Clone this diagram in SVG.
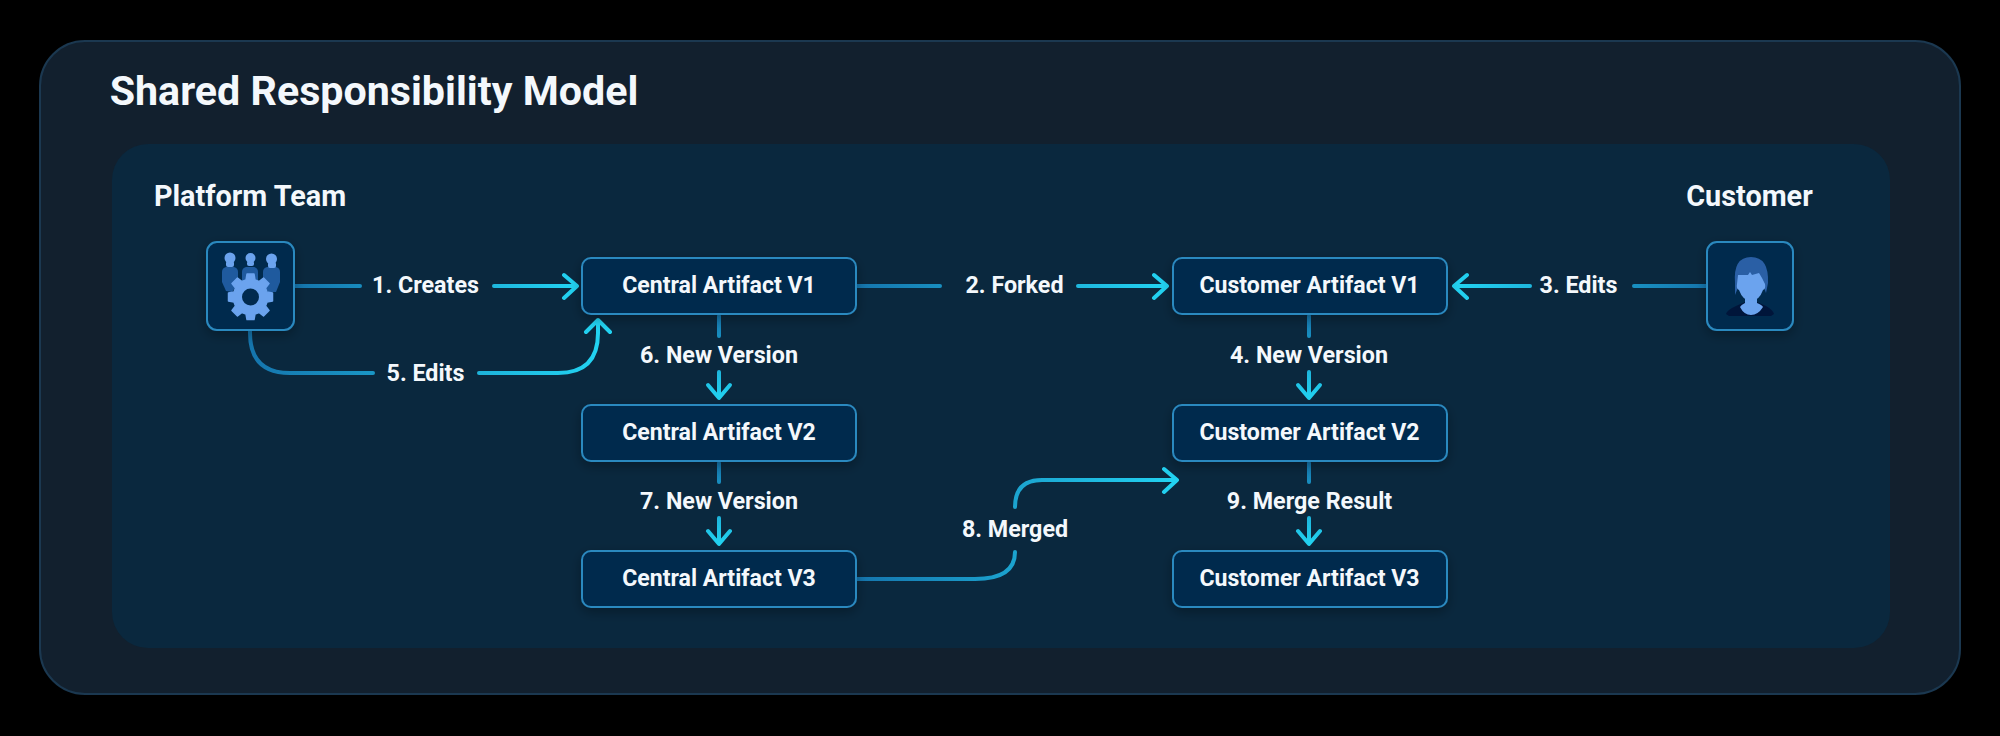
<svg xmlns="http://www.w3.org/2000/svg" width="2000" height="736" viewBox="0 0 2000 736">
<style>
text{font-family:Roboto,"Liberation Sans",sans-serif;fill:#f4f8fc;text-anchor:middle;dominant-baseline:central;font-weight:700}
.n{font-size:23.100px}
.l{font-size:23.300px}
.h{font-size:28.800px}
.box{fill:#012a4e;stroke:#2b89bf;stroke-width:2;filter:url(#s)}
.c{fill:none;stroke-width:4;stroke-linecap:round;stroke-linejoin:round}
</style>
<defs>
<filter id="s" x="-30%" y="-40%" width="160%" height="190%"><feDropShadow dx="0" dy="4" stdDeviation="6" flood-color="#000" flood-opacity=".3"/></filter>
<linearGradient id="g1" gradientUnits="userSpaceOnUse" x1="295" y1="0" x2="577" y2="0"><stop offset="0" stop-color="#1575ad"/><stop offset="1" stop-color="#22d3f2"/></linearGradient>
<linearGradient id="g5" gradientUnits="userSpaceOnUse" x1="250" y1="0" x2="598" y2="0"><stop offset="0" stop-color="#1575ad"/><stop offset="1" stop-color="#22d3f2"/></linearGradient>
<linearGradient id="g2" gradientUnits="userSpaceOnUse" x1="856" y1="0" x2="1167" y2="0"><stop offset="0" stop-color="#1575ad"/><stop offset="1" stop-color="#22d3f2"/></linearGradient>
<linearGradient id="g3" gradientUnits="userSpaceOnUse" x1="1707" y1="0" x2="1454" y2="0"><stop offset="0" stop-color="#1575ad"/><stop offset="1" stop-color="#22d3f2"/></linearGradient>
<linearGradient id="g8" gradientUnits="userSpaceOnUse" x1="856" y1="0" x2="1177" y2="0"><stop offset="0" stop-color="#1575ad"/><stop offset="1" stop-color="#22d3f2"/></linearGradient>
<linearGradient id="gv1" gradientUnits="userSpaceOnUse" x1="0" y1="314" x2="0" y2="398"><stop offset="0" stop-color="#1575ad"/><stop offset="1" stop-color="#22d3f2"/></linearGradient>
<linearGradient id="gv2" gradientUnits="userSpaceOnUse" x1="0" y1="461" x2="0" y2="544"><stop offset="0" stop-color="#1575ad"/><stop offset="1" stop-color="#22d3f2"/></linearGradient>
</defs>
<rect width="2000" height="736" fill="#000"/>
<g id="panel">
<rect x="40" y="41" width="1920" height="653" rx="45" fill="#12202e" stroke="#1b3850" stroke-width="2"/>
<rect x="112" y="144" width="1778" height="504" rx="36" fill="#0a283e"/>
<text x="374" y="91" style="font-size:41.200px">Shared Responsibility Model</text>
</g>
<g id="connectors">
<path class="c" stroke="url(#g1)" d="M295 286H360M494 286H575M564 275L577 286L564 298"/>
<path class="c" stroke="url(#g5)" d="M250 330V333Q250 373 290 373H373M479 373H558Q598 373 598 333V322M586 332L598 320L610 332"/>
<path class="c" stroke="url(#g2)" d="M856 286H940M1078 286H1165M1154 275L1167 286L1154 298"/>
<path class="c" stroke="url(#g3)" d="M1707 286H1634M1530 286H1456M1467 275L1454 286L1467 298"/>
<path class="c" stroke="url(#g8)" d="M856 579H975Q1015 579 1015 552M1015 507Q1015 480 1042 480H1175M1164 469L1177 480L1164 492"/>
<path class="c" stroke="url(#gv1)" d="M719 316V336M719 372V396M708 385L719 398L730 385"/>
<path class="c" stroke="url(#gv2)" d="M719 463V482M719 518V542M708 531L719 544L730 531"/>
<path class="c" stroke="url(#gv1)" d="M1309 316V336M1309 372V396M1298 385L1309 398L1320 385"/>
<path class="c" stroke="url(#gv2)" d="M1309 463V482M1309 518V542M1298 531L1309 544L1320 531"/>
</g>
<g id="labels">
<text class="l" x="425.500" y="285">1. Creates</text>
<text class="l" x="425.500" y="372.500">5. Edits</text>
<text class="l" x="1014.500" y="285">2. Forked</text>
<text class="l" x="1578.500" y="285">3. Edits</text>
<text class="l" x="719" y="354.500">6. New Version</text>
<text class="l" x="719" y="500.500">7. New Version</text>
<text class="l" x="1309" y="354.500">4. New Version</text>
<text class="l" x="1309.500" y="500.500">9. Merge Result</text>
<text class="l" x="1015" y="528.500">8. Merged</text>
</g>
<g id="platform-team">
<text class="h" x="250" y="196">Platform Team</text>
<rect class="box" x="207" y="242" width="87" height="88" rx="10"/>
<g fill="#1f5a9e">
<path d="M222 272Q222 268 226 267L234 267Q238 268 238 272L238 284L232 292L226 291L222 282Z"/>
<path d="M242 272Q242 268 246 267L254 267Q258 268 258 272V284H242Z"/>
<path d="M263 272Q263 268 267 267L276 267Q280 268 280 272L280 282L276 292L268 292L263 284Z"/>
</g>
<g fill="#6ba3ee">
<circle cx="230" cy="258" r="5.500"/><rect x="226" y="261" width="8" height="6" rx="2"/>
<circle cx="250.500" cy="258" r="5"/><rect x="247" y="261" width="7" height="5" rx="2"/>
<circle cx="271.500" cy="259" r="5.500"/><rect x="268" y="262" width="8" height="6" rx="2"/>
</g>
<path d="M247 274H254L255 280 259 281.500 263.500 278 269 283.500 265.500 288 267 292 272.500 293V301L267 302 265.500 306 269 310.500 263.500 316 259 312.500 255 314 254 319.500H247L246 314 242 312.500 237.500 316 232 310.500 235.500 306 234 302 228.500 301V293L234 292 235.500 288 232 283.500 237.500 278 242 281.500 246 280Z" fill="#6ba3ee" stroke="#6ba3ee" stroke-width="1.500" stroke-linejoin="round"/>
<circle cx="250.500" cy="297" r="8.500" fill="#012a4e"/>
</g>
<g id="customer">
<text class="h" x="1749.500" y="196">Customer</text>
<rect class="box" x="1707" y="242" width="86" height="88" rx="10"/>
<path d="M1735 295L1735 283Q1733 257 1751 257Q1769 257 1768 283L1766 293L1763 285H1739Z" fill="#2a5fa5"/>
<path d="M1726 314Q1727 310 1736 306L1745 302H1757L1766 306Q1773 310 1774 314L1771 316H1729Z" fill="#00153a"/>
<path d="M1745 295H1757V303Q1762 305 1763 307Q1758 315 1751 315Q1744 315 1740 307Q1741 305 1745 303Z" fill="#6ba3ee"/>
<path d="M1738 275L1748 275L1750 272L1752 275L1759 273L1762 278L1765 284Q1766 289 1763 290Q1759 301 1751 301Q1743 301 1739 290Q1736 289 1737 284Z" fill="#6ba3ee"/>
</g>
<g id="central-v1"><rect class="box" x="582" y="258" width="274" height="56" rx="9"/><text class="n" x="719" y="285">Central Artifact V1</text></g>
<g id="central-v2"><rect class="box" x="582" y="405" width="274" height="56" rx="9"/><text class="n" x="719" y="432">Central Artifact V2</text></g>
<g id="central-v3"><rect class="box" x="582" y="551" width="274" height="56" rx="9"/><text class="n" x="719" y="578">Central Artifact V3</text></g>
<g id="customer-v1"><rect class="box" x="1173" y="258" width="274" height="56" rx="9"/><text class="n" x="1309.500" y="285">Customer Artifact V1</text></g>
<g id="customer-v2"><rect class="box" x="1173" y="405" width="274" height="56" rx="9"/><text class="n" x="1309.500" y="432">Customer Artifact V2</text></g>
<g id="customer-v3"><rect class="box" x="1173" y="551" width="274" height="56" rx="9"/><text class="n" x="1309.500" y="578">Customer Artifact V3</text></g>
</svg>
